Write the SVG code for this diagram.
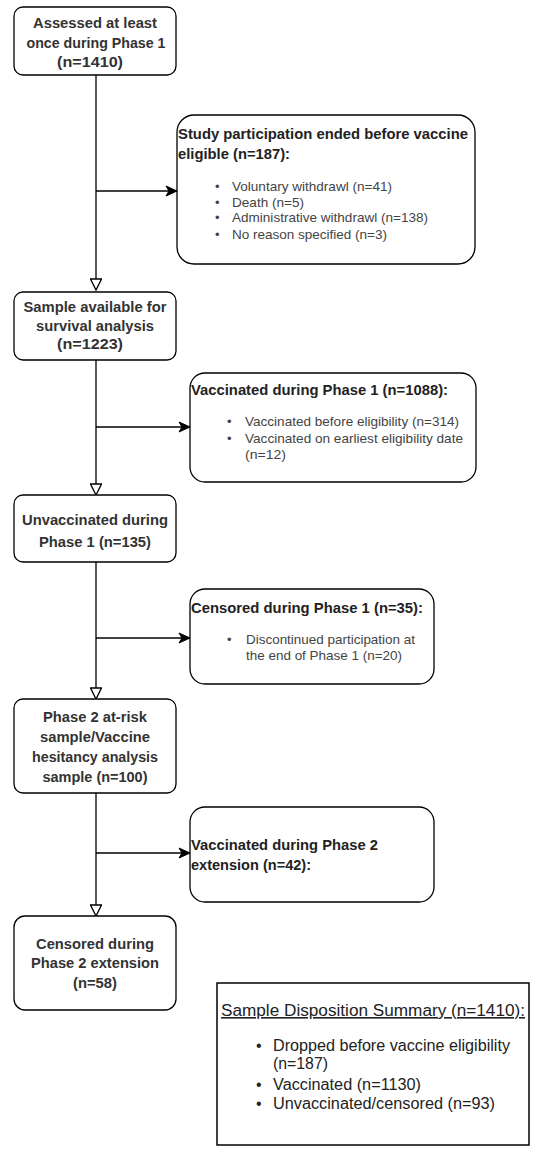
<svg xmlns="http://www.w3.org/2000/svg" width="550" height="1156" viewBox="0 0 550 1156">
<defs>
<style>
.box{fill:#fff;stroke:#000;stroke-width:1.3}
.ln{fill:none;stroke:#000;stroke-width:1.3}
.m{font-family:"Liberation Sans",Arial,sans-serif;font-size:14px;font-weight:bold;fill:#333;text-anchor:middle}
.t{font-family:"Liberation Sans",Arial,sans-serif;font-size:15px;font-weight:bold;fill:#222}
.b{font-family:"Liberation Sans",Arial,sans-serif;font-size:13px;fill:#444}
.s{font-family:"Liberation Sans",Arial,sans-serif;font-size:16px;fill:#222}
</style>
<marker id="open" markerUnits="userSpaceOnUse" markerWidth="14" markerHeight="12" viewBox="0 0 14 12" refX="12" refY="6" orient="auto">
<path d="M1,0.5 L12,6 L1,11.5 Z" fill="#fff" stroke="#000" stroke-width="1.3"/>
</marker>
<marker id="fill" markerUnits="userSpaceOnUse" markerWidth="14" markerHeight="12" viewBox="0 0 14 12" refX="12" refY="6" orient="auto">
<path d="M1,1 L12,6 L1,11 L4,6 Z" fill="#000" stroke="#000" stroke-width="1"/>
</marker>
</defs>
<rect width="550" height="1156" fill="#fff"/>
<g id="connectors">
<line class="ln" x1="96" y1="75" x2="96" y2="290" marker-end="url(#open)"/>
<line class="ln" x1="96" y1="191" x2="177" y2="191" marker-end="url(#fill)"/>
<line class="ln" x1="96" y1="360" x2="96" y2="495" marker-end="url(#open)"/>
<line class="ln" x1="96" y1="427" x2="190" y2="427" marker-end="url(#fill)"/>
<line class="ln" x1="96" y1="562" x2="96" y2="699" marker-end="url(#open)"/>
<line class="ln" x1="96" y1="638" x2="190" y2="638" marker-end="url(#fill)"/>
<line class="ln" x1="96" y1="793" x2="96" y2="916" marker-end="url(#open)"/>
<line class="ln" x1="96" y1="853" x2="190" y2="853" marker-end="url(#fill)"/>
</g>
<g id="assessed">
<rect class="box" x="14" y="7" width="162" height="68" rx="9"/>
<text class="m" x="95" y="28" textLength="124" lengthAdjust="spacingAndGlyphs">Assessed at least</text>
<text class="m" x="96" y="48" textLength="139" lengthAdjust="spacingAndGlyphs">once during Phase 1</text>
<text class="m" x="90" y="67" textLength="66" lengthAdjust="spacingAndGlyphs">(n=1410)</text>
</g>
<g id="ended">
<rect class="box" x="177" y="115" width="298" height="149" rx="17"/>
<text class="t" x="178" y="139" textLength="290" lengthAdjust="spacingAndGlyphs">Study participation ended before vaccine</text>
<text class="t" x="178" y="159" textLength="112" lengthAdjust="spacingAndGlyphs">eligible (n=187):</text>
<text class="b" x="215" y="191">•</text><text class="b" x="232" y="191" textLength="160" lengthAdjust="spacingAndGlyphs">Voluntary withdrawl (n=41)</text>
<text class="b" x="215" y="207">•</text><text class="b" x="232" y="207" textLength="72" lengthAdjust="spacingAndGlyphs">Death (n=5)</text>
<text class="b" x="215" y="222">•</text><text class="b" x="232" y="222" textLength="196" lengthAdjust="spacingAndGlyphs">Administrative withdrawl (n=138)</text>
<text class="b" x="215" y="239">•</text><text class="b" x="232" y="239" textLength="155" lengthAdjust="spacingAndGlyphs">No reason specified (n=3)</text>
</g>
<g id="survival">
<rect class="box" x="14" y="292" width="162" height="68" rx="9"/>
<text class="m" x="95" y="312" textLength="143" lengthAdjust="spacingAndGlyphs">Sample available for</text>
<text class="m" x="95" y="331" textLength="118" lengthAdjust="spacingAndGlyphs">survival analysis</text>
<text class="m" x="90" y="349" textLength="66" lengthAdjust="spacingAndGlyphs">(n=1223)</text>
</g>
<g id="vacc1">
<rect class="box" x="190" y="373" width="286" height="109" rx="15"/>
<text class="t" x="191" y="395" textLength="257" lengthAdjust="spacingAndGlyphs">Vaccinated during Phase 1 (n=1088):</text>
<text class="b" x="227" y="426">•</text><text class="b" x="245" y="426" textLength="214" lengthAdjust="spacingAndGlyphs">Vaccinated before eligibility (n=314)</text>
<text class="b" x="227" y="443">•</text><text class="b" x="245" y="443" textLength="218" lengthAdjust="spacingAndGlyphs">Vaccinated on earliest eligibility date</text>
<text class="b" x="245" y="459" textLength="41" lengthAdjust="spacingAndGlyphs">(n=12)</text>
</g>
<g id="unvacc1">
<rect class="box" x="14" y="495" width="162" height="67" rx="9"/>
<text class="m" x="95" y="525" textLength="146" lengthAdjust="spacingAndGlyphs">Unvaccinated during</text>
<text class="m" x="95" y="547" textLength="112" lengthAdjust="spacingAndGlyphs">Phase 1 (n=135)</text>
</g>
<g id="censored1">
<rect class="box" x="190" y="589" width="244" height="95" rx="15"/>
<text class="t" x="191" y="613" textLength="232" lengthAdjust="spacingAndGlyphs">Censored during Phase 1 (n=35):</text>
<text class="b" x="227" y="644">•</text><text class="b" x="246" y="644" textLength="169" lengthAdjust="spacingAndGlyphs">Discontinued participation at</text>
<text class="b" x="246" y="660" textLength="156" lengthAdjust="spacingAndGlyphs">the end of Phase 1 (n=20)</text>
</g>
<g id="phase2">
<rect class="box" x="14" y="699" width="162" height="94" rx="9"/>
<text class="m" x="95" y="722" textLength="104" lengthAdjust="spacingAndGlyphs">Phase 2 at-risk</text>
<text class="m" x="95" y="742" textLength="110" lengthAdjust="spacingAndGlyphs">sample/Vaccine</text>
<text class="m" x="95" y="762" textLength="126" lengthAdjust="spacingAndGlyphs">hesitancy analysis</text>
<text class="m" x="95" y="782" textLength="105" lengthAdjust="spacingAndGlyphs">sample (n=100)</text>
</g>
<g id="vacc2">
<rect class="box" x="190" y="807" width="244" height="95" rx="15"/>
<text class="t" x="191" y="850" textLength="187" lengthAdjust="spacingAndGlyphs">Vaccinated during Phase 2</text>
<text class="t" x="191" y="870" textLength="120" lengthAdjust="spacingAndGlyphs">extension (n=42):</text>
</g>
<g id="censored2">
<rect class="box" x="14" y="916" width="162" height="94" rx="11"/>
<text class="m" x="95" y="949" textLength="118" lengthAdjust="spacingAndGlyphs">Censored during</text>
<text class="m" x="95" y="968" textLength="128" lengthAdjust="spacingAndGlyphs">Phase 2 extension</text>
<text class="m" x="95" y="988" textLength="44" lengthAdjust="spacingAndGlyphs">(n=58)</text>
</g>
<g id="summary">
<rect x="217" y="983" width="312" height="162" fill="#fff" stroke="#000" stroke-width="1.5"/>
<text class="s" x="221" y="1016" text-decoration="underline" textLength="304" lengthAdjust="spacingAndGlyphs">Sample Disposition Summary (n=1410):</text>
<text class="s" x="256" y="1051">•</text><text class="s" x="273" y="1051" textLength="237" lengthAdjust="spacingAndGlyphs">Dropped before vaccine eligibility</text>
<text class="s" x="273" y="1069" textLength="55" lengthAdjust="spacingAndGlyphs">(n=187)</text>
<text class="s" x="256" y="1090">•</text><text class="s" x="273" y="1090" textLength="148" lengthAdjust="spacingAndGlyphs">Vaccinated (n=1130)</text>
<text class="s" x="256" y="1109">•</text><text class="s" x="273" y="1109" textLength="222" lengthAdjust="spacingAndGlyphs">Unvaccinated/censored (n=93)</text>
</g>
</svg>
